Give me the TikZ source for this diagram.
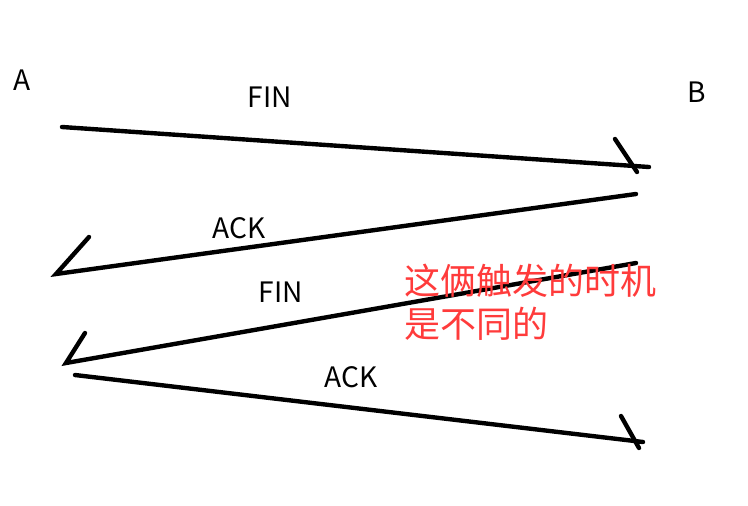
\documentclass[tikz,border=0pt]{standalone}
\usepackage{fontspec}
\setmainfont{Noto Sans CJK SC}
\newfontfamily\cjk{Noto Sans CJK SC}
\usetikzlibrary{positioning}

\begin{document}
\begin{tikzpicture}[
    x=0.02cm, y=-0.02cm,
    % Node styles
    peer/.style={font=\fontsize{16pt}{19pt}\selectfont, inner sep=1pt},
    msg/.style={font=\fontsize{16pt}{19pt}\selectfont, inner sep=1pt},
    note/.style={font=\cjk\fontsize{20.5pt}{24.5pt}\selectfont, text=notered,
        align=left, inner sep=0pt, anchor=north west},
    % Edge style
    edge/.style={draw, line width=2.5pt, line cap=round},
    % Barb style
    barb/.style={draw, line width=2.5pt, line cap=round},
]
\definecolor{notered}{HTML}{FF3B3B}

% Canvas
\useasboundingbox (0,0) rectangle (748,505);

% ===== PEERS =====
\node[peer] (A) at (22,80) {A};
\node[peer] (B) at (697,92) {B};

% ===== END POINTS =====
\coordinate (fin1-s) at (62,127);
\coordinate (fin1-e) at (649,167);
\coordinate (ack1-s) at (636,194);
\coordinate (ack1-e) at (56,274);
\coordinate (fin2-s) at (636,263);
\coordinate (fin2-e) at (66,363);
\coordinate (ack2-s) at (75,375);
\coordinate (ack2-e) at (643,442);

% Barb end points
\coordinate (fin1-b1) at (615,139);
\coordinate (fin1-b2) at (637,172);
\coordinate (ack1-b) at (89,237);
\coordinate (fin2-b) at (85,333);
\coordinate (ack2-b1) at (621,416);
\coordinate (ack2-b2) at (639,448);

% ===== MESSAGES =====
% FIN: A -> B
\draw[edge] (fin1-s) -- (fin1-e);
\draw[barb] (fin1-b1) -- (fin1-b2);
\node[msg] (fin1) at (270,97) {FIN};

% ACK: B -> A
\draw[edge] (ack1-s) -- (ack1-e) -- (ack1-b);
\node[msg] (ack1) at (239,228) {ACK};

% FIN: B -> A
\draw[edge] (fin2-s) -- (fin2-e) -- (fin2-b);
\node[msg] (fin2) at (281,292) {FIN};

% ACK: A -> B
\draw[edge] (ack2-s) -- (ack2-e);
\draw[barb] (ack2-b1) -- (ack2-b2);
\node[msg] (ack2) at (351,377) {ACK};

% ===== NOTE =====
\node[note] (remark) at (404,264) {这俩触发的时机\\是不同的};

\end{tikzpicture}
\end{document}
